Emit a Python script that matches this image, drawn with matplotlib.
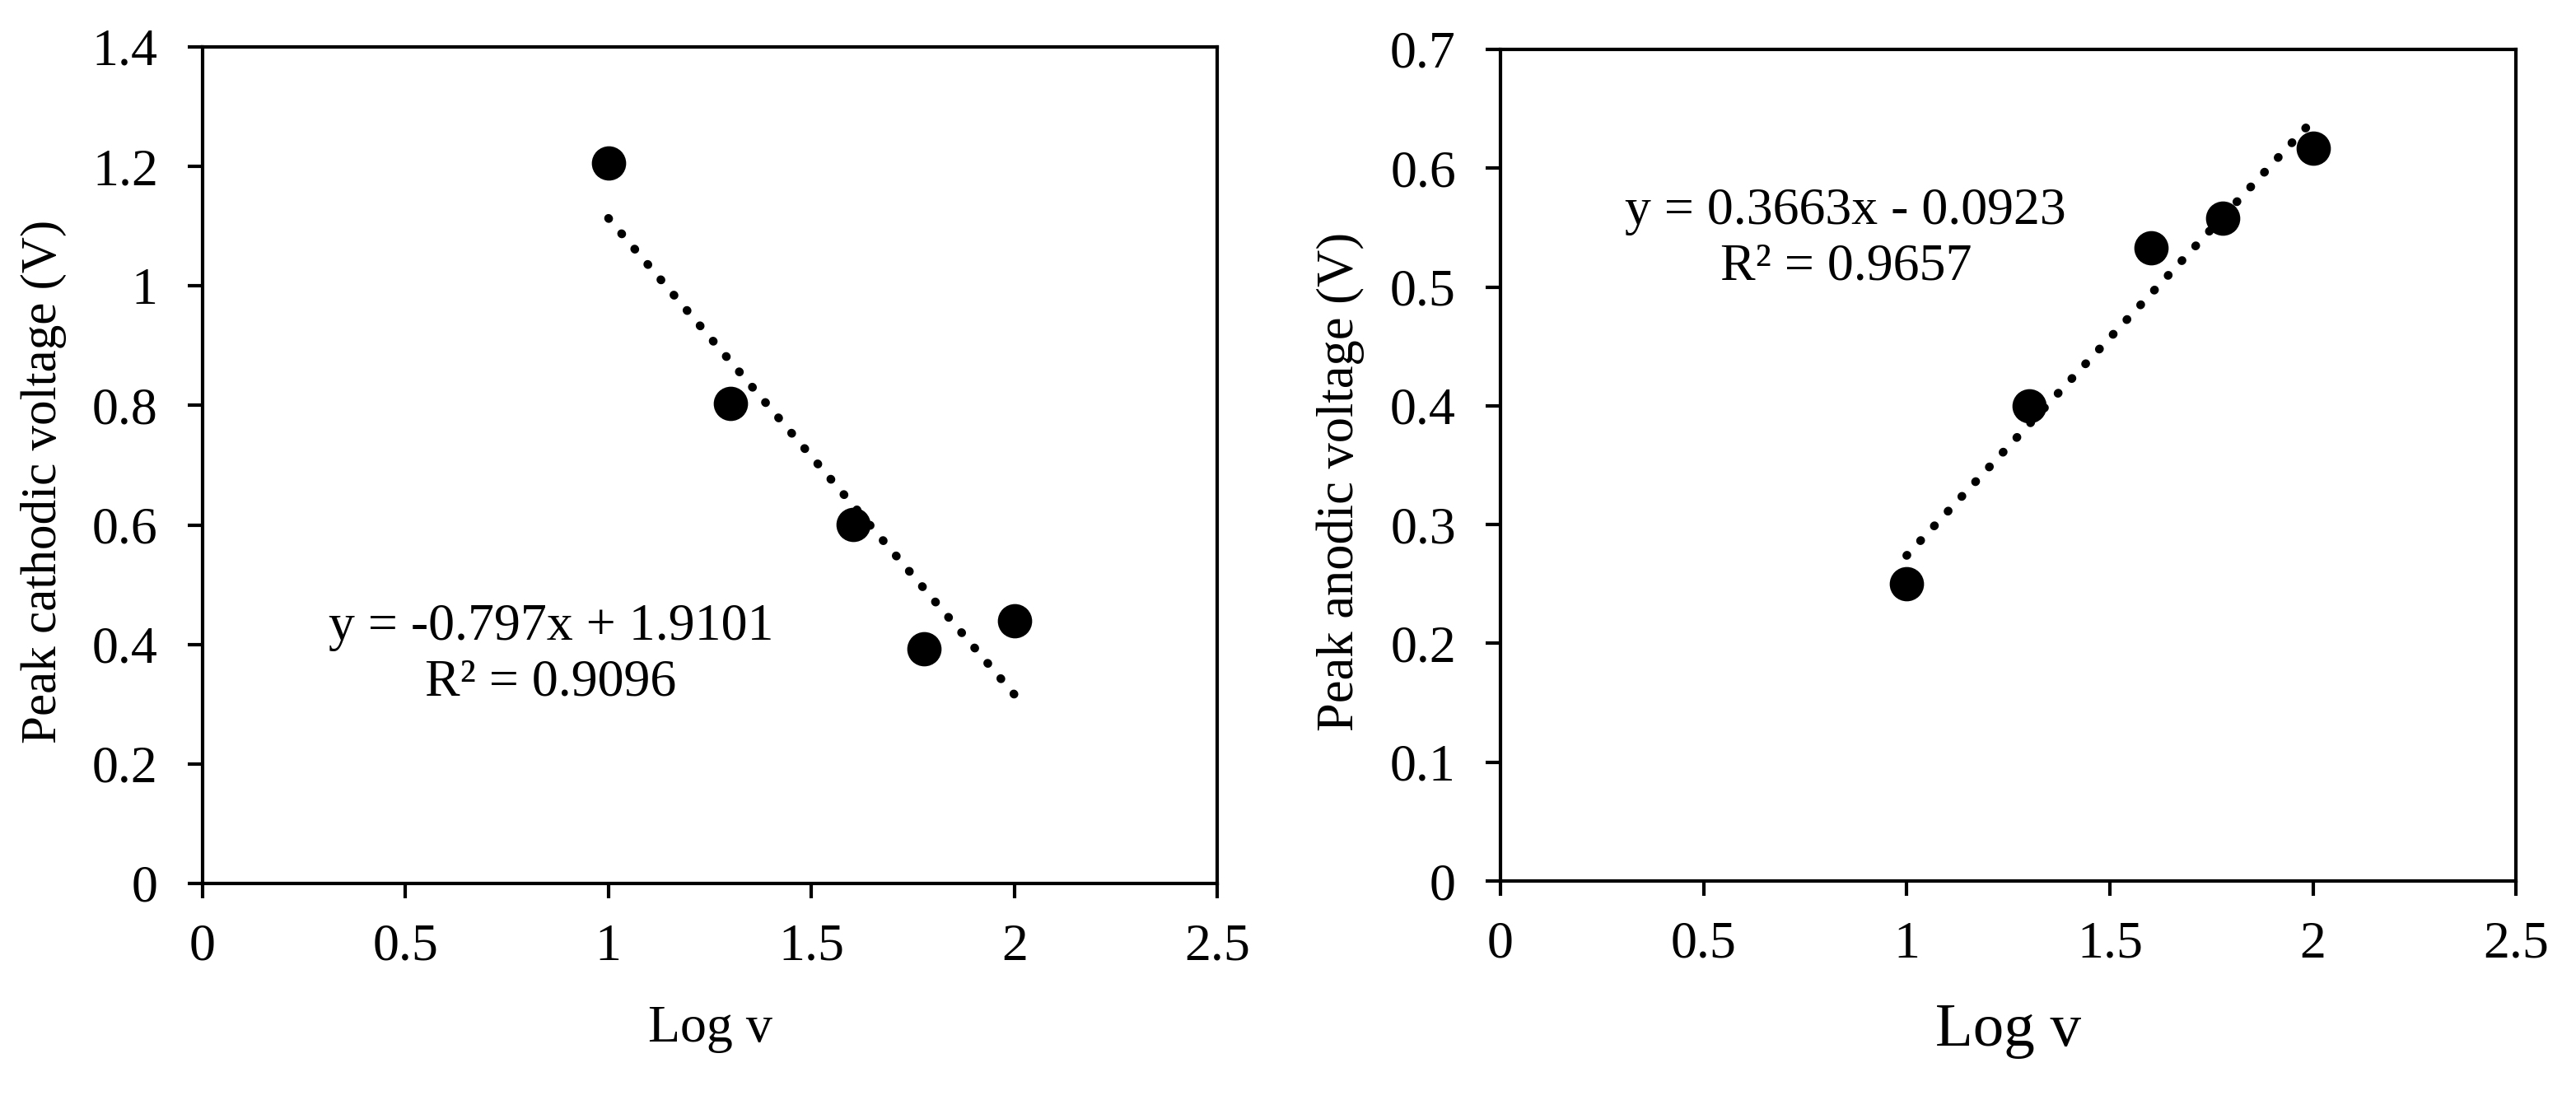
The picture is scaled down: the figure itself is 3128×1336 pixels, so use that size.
import matplotlib
matplotlib.use("Agg")
import matplotlib.pyplot as plt
import numpy as np
from matplotlib.ticker import FormatStrFormatter

plt.rcParams["font.family"] = ["Liberation Serif", "DejaVu Serif"]

log_v = [1.0, 1.301, 1.602, 1.778, 2.0]
cathodic = [1.205, 0.803, 0.601, 0.392, 0.440]
anodic = [0.250, 0.400, 0.533, 0.558, 0.617]

cath_fit = (-0.797, 1.9101)
anod_fit = (0.3663, -0.0923)
cath_label = "y = -0.797x + 1.9101\nR² = 0.9096"
anod_label = "y = 0.3663x - 0.0923\nR² = 0.9657"

fig = plt.figure(figsize=(31.28, 13.36), dpi=100)
ax1 = fig.add_axes([0.07865, 0.1969, 0.3939, 0.7605])
ax2 = fig.add_axes([0.5825, 0.1991, 0.3942, 0.7560])


def draw(ax, y, fit, label, label_xy, ylim, ystep, ylabel, xl_size, yl_size):
    x = np.array(log_v)
    xf = np.array([x.min(), x.max()])
    ax.plot(xf, fit[0] * xf + fit[1], color="black", lw=7.5,
            linestyle=(0, (0.05, 2.3)), dash_capstyle="round", zorder=2)
    ax.plot(x, y, "o", color="black", ms=29, zorder=3)
    ax.text(label_xy[0], label_xy[1], label, ha="center", va="center",
            multialignment="center", fontsize=46, linespacing=1.2)
    ax.set_xlim(0, 2.5)
    ax.set_ylim(*ylim)
    ax.set_xticks(np.arange(0, 2.51, 0.5))
    ax.set_yticks(np.arange(0, ylim[1] + 1e-9, ystep))
    ax.xaxis.set_major_formatter(FormatStrFormatter("%g"))
    ax.yaxis.set_major_formatter(FormatStrFormatter("%g"))
    ax.tick_params(direction="out", length=13, width=3, labelsize=46)
    ax.tick_params(axis="y", pad=26)
    ax.tick_params(axis="x", pad=22)
    for s in ax.spines.values():
        s.set_linewidth(3)
    ax.set_xlabel("Log v", fontsize=xl_size, labelpad=30)
    ax.set_ylabel(ylabel, fontsize=yl_size, labelpad=22)
    ax.yaxis.label.set_y(0.48)


draw(ax1, cathodic, cath_fit, cath_label, (0.858, 0.382), (0, 1.4), 0.2,
     "Peak cathodic voltage (V)", 46, 44)
draw(ax2, anodic, anod_fit, anod_label, (0.85, 0.54), (0, 0.7), 0.1,
     "Peak anodic voltage (V)", 54, 45)

fig.savefig("out.png", dpi=100)
